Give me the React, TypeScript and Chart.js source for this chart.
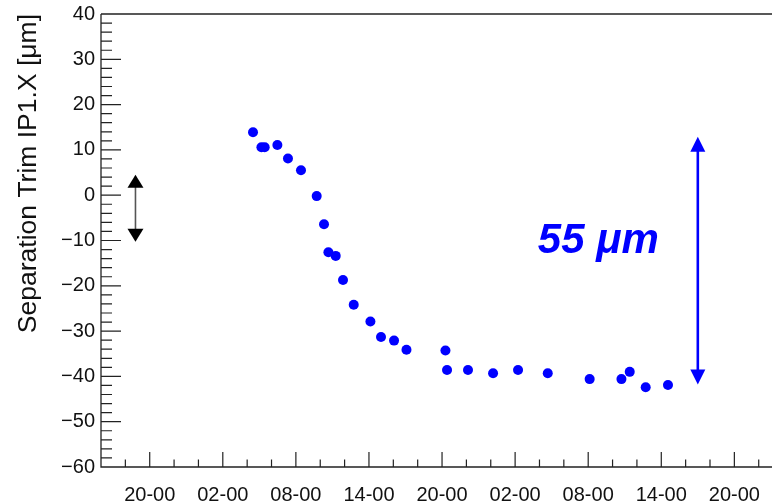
import React, { useEffect, useRef } from 'react';
import { Chart, registerables } from 'chart.js';
Chart.register(...registerables);

// hours counted from 00:00 of the first day shown
const timesH = [28.48, 29.17, 29.44, 30.48, 31.35, 32.42, 33.71, 34.31, 34.67, 35.27, 35.87, 36.75, 38.12, 38.99, 40.06, 41.08, 44.28, 44.41, 46.13, 48.19, 50.24, 52.68, 56.12, 58.73, 59.41, 60.72, 62.55];
const trimValues = [13.9, 10.6, 10.6, 11.1, 8.1, 5.5, -0.2, -6.4, -12.6, -13.4, -18.7, -24.2, -27.9, -31.3, -32.1, -34.1, -34.3, -38.6, -38.6, -39.3, -38.6, -39.3, -40.6, -40.6, -39.0, -42.4, -41.9];
const xTickHours = [20, 26, 32, 38, 44, 50, 56, 62, 68];
const xTickLabels = ['20-00', '02-00', '08-00', '14-00', '20-00', '02-00', '08-00', '14-00', '20-00'];
const xMin = 16;
const xMax = 70.68;
const yMin = -60;
const yMax = 40;
const blackArrow = { x: 18.83, from: 4.5, to: -10.3 };
const blueArrow = { x: 65.0, from: 12.9, to: -41.8 };
const annotationText = '55 \u03bcm';
const annotationPos = { x: 51.86, y: -12.75 };
const yTitle = 'Separation Trim IP1.X [\u03bcm]';

const FONT = '"Liberation Sans", Arial, Helvetica, sans-serif';

function drawArrow(ctx: CanvasRenderingContext2D, x: number, yTop: number, yBot: number, lineColor: string, headColor: string, lw: number, hw: number, hh: number) {
  ctx.save();
  ctx.strokeStyle = lineColor;
  ctx.lineWidth = lw;
  ctx.beginPath();
  ctx.moveTo(x, yTop + hh - 1);
  ctx.lineTo(x, yBot - hh + 1);
  ctx.stroke();
  ctx.fillStyle = headColor;
  ctx.beginPath();
  ctx.moveTo(x, yTop);
  ctx.lineTo(x - hw / 2, yTop + hh);
  ctx.lineTo(x + hw / 2, yTop + hh);
  ctx.closePath();
  ctx.fill();
  ctx.beginPath();
  ctx.moveTo(x, yBot);
  ctx.lineTo(x - hw / 2, yBot - hh);
  ctx.lineTo(x + hw / 2, yBot - hh);
  ctx.closePath();
  ctx.fill();
  ctx.restore();
}

const rootFrame = {
  id: 'rootFrame',
  beforeDatasetsDraw(chart: any) {
    const { ctx, chartArea: a, scales } = chart;
    const xs = scales.x;
    const ys = scales.y;
    const w = chart.width;
    ctx.save();
    ctx.strokeStyle = '#222';
    ctx.lineWidth = 1.3;
    ctx.beginPath();
    ctx.moveTo(a.left, a.top);
    ctx.lineTo(w, a.top);
    ctx.moveTo(a.left, a.top);
    ctx.lineTo(a.left, a.bottom);
    ctx.lineTo(w, a.bottom);
    ctx.stroke();
    ctx.lineWidth = 1.2;
    ctx.beginPath();
    for (let v = yMin + 2; v < yMax; v += 2) {
      const py = ys.getPixelForValue(v);
      const len = v % 10 === 0 ? 20 : 11;
      ctx.moveTo(a.left, py);
      ctx.lineTo(a.left + len, py);
    }
    for (let h = xMin + 2; h < xMax; h += 2) {
      const px = xs.getPixelForValue(h);
      const len = (h - 20) % 6 === 0 ? 15 : 7.5;
      ctx.moveTo(px, a.bottom);
      ctx.lineTo(px, a.bottom - len);
    }
    ctx.stroke();
    ctx.restore();
  },
  afterDatasetsDraw(chart: any) {
    const { ctx, scales } = chart;
    const xs = scales.x;
    const ys = scales.y;
    drawArrow(ctx, xs.getPixelForValue(blackArrow.x), ys.getPixelForValue(blackArrow.from), ys.getPixelForValue(blackArrow.to), '#555', '#000', 1.6, 16, 13);
    drawArrow(ctx, xs.getPixelForValue(blueArrow.x), ys.getPixelForValue(blueArrow.from), ys.getPixelForValue(blueArrow.to), '#0000ff', '#0000ff', 2.6, 15, 15);
    ctx.save();
    ctx.fillStyle = '#0000ff';
    ctx.font = `italic bold 42px ${FONT}`;
    ctx.textAlign = 'left';
    ctx.textBaseline = 'alphabetic';
    ctx.fillText(annotationText, xs.getPixelForValue(annotationPos.x), ys.getPixelForValue(annotationPos.y));
    ctx.restore();
  },
};

export default function App() {
  const ref = useRef<HTMLCanvasElement>(null);
  useEffect(() => {
    if (!ref.current) return;
    const chart = new Chart(ref.current, {
      type: 'scatter',
      data: {
        datasets: [
          {
            data: timesH.map((t, i) => ({ x: t, y: trimValues[i] })),
            backgroundColor: '#0000ff',
            borderWidth: 0,
            pointRadius: 5,
            pointHoverRadius: 5,
          },
        ],
      },
      options: {
        animation: false,
        responsive: false,
        devicePixelRatio: 1,
        layout: { padding: { top: 14, left: 0, right: 0, bottom: 0 } },
        plugins: { legend: { display: false }, tooltip: { enabled: false } },
        scales: {
          x: {
            type: 'linear',
            min: xMin,
            max: xMax,
            grid: { display: false, drawTicks: false },
            border: { display: false },
            afterBuildTicks: (scale: any) => {
              scale.ticks = xTickHours.map((v) => ({ value: v }));
            },
            afterFit: (scale: any) => {
              scale.height = 37;
              scale.paddingLeft = 0;
              scale.paddingRight = 0;
            },
            ticks: {
              autoSkip: false,
              maxRotation: 0,
              padding: 16,
              color: '#111',
              font: { family: FONT, size: 20 },
              callback: (v: any) => {
                const i = xTickHours.indexOf(Number(v));
                return i >= 0 ? xTickLabels[i] : '';
              },
            },
          },
          y: {
            min: yMin,
            max: yMax,
            grid: { display: false, drawTicks: false },
            border: { display: false },
            afterFit: (scale: any) => {
              scale.width = 101;
              scale.paddingTop = 0;
              scale.paddingBottom = 0;
            },
            ticks: {
              stepSize: 10,
              padding: 6,
              color: '#111',
              font: { family: FONT, size: 20 },
              callback: (v: any) => String(v).replace('-', '\u2212'),
            },
            title: {
              display: true,
              text: yTitle,
              align: 'end',
              color: '#111',
              padding: { top: 13, bottom: 0 },
              font: { family: FONT, size: 26.5 },
            },
          },
        },
      },
      plugins: [rootFrame],
    } as any);
    return () => chart.destroy();
  }, []);
  return (
    <div style={{ position: 'fixed', left: 0, top: 0, width: 772, height: 504, background: '#fff' }}>
      <canvas ref={ref} width={772} height={504} style={{ display: 'block', width: 772, height: 504 }} />
    </div>
  );
}
